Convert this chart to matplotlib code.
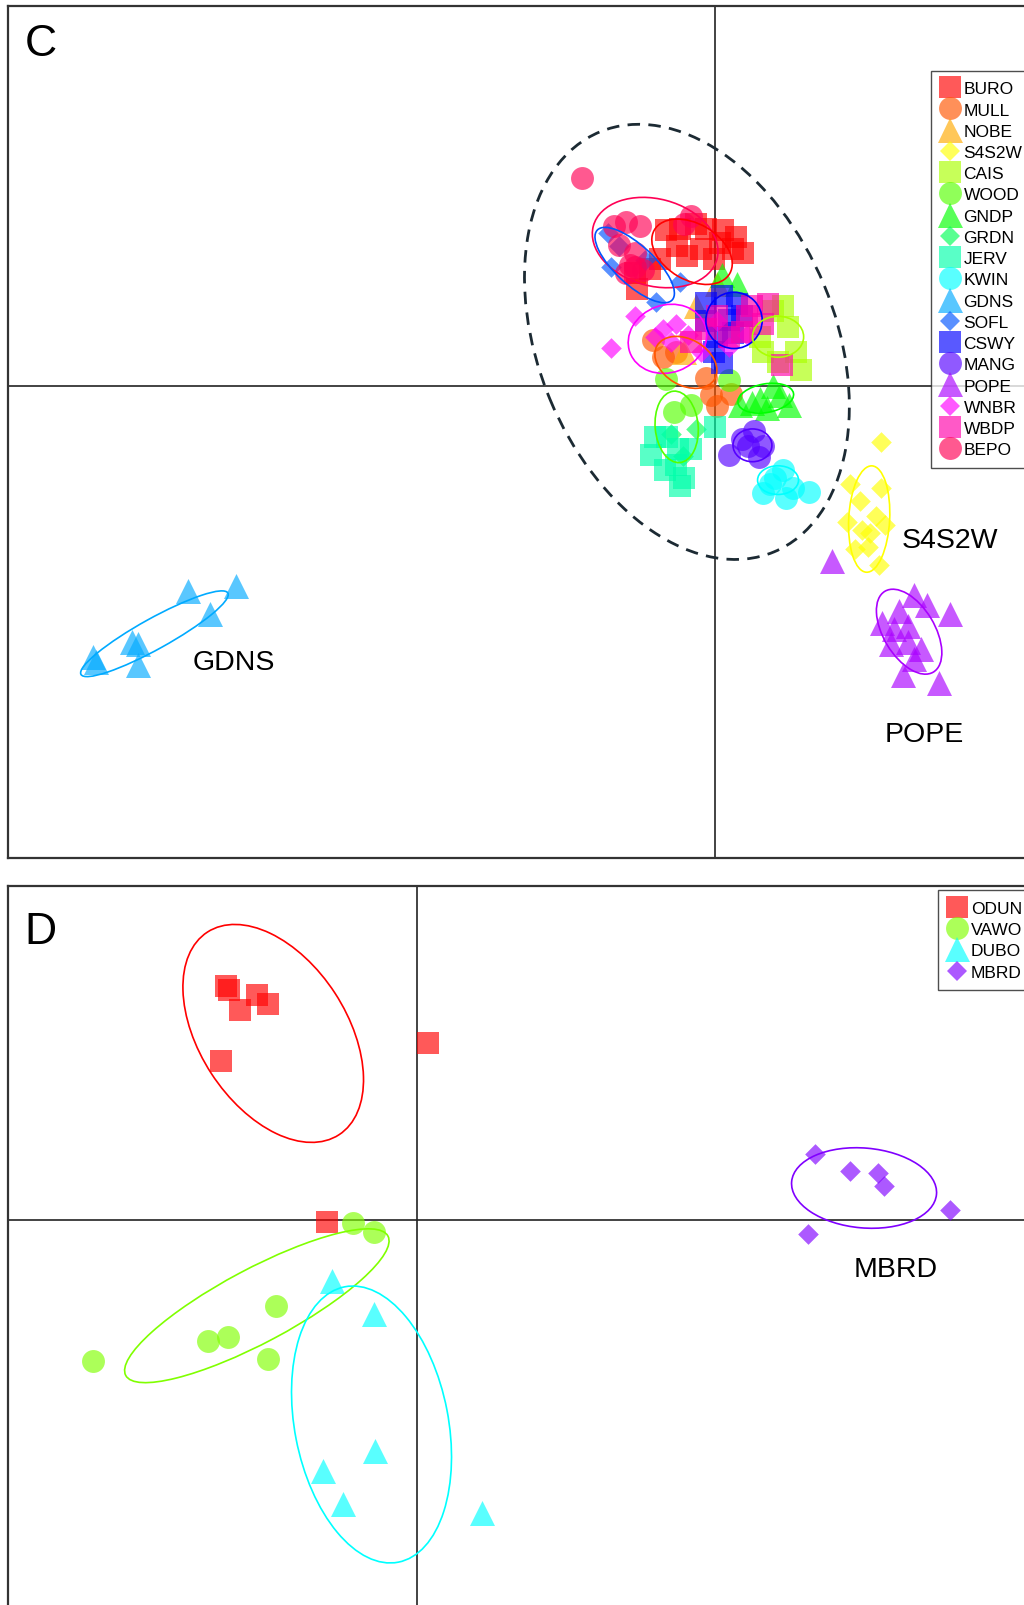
import colorsys
import matplotlib
matplotlib.use('Agg')
import matplotlib.pyplot as plt
from matplotlib.patches import Ellipse
from matplotlib.lines import Line2D

plt.rcParams['font.family'] = ['Liberation Sans', 'DejaVu Sans']

# ---- panel C : 18 sites, discriminant scores ----
c_names = ['BURO', 'MULL', 'NOBE', 'S4S2W', 'CAIS', 'WOOD', 'GNDP', 'GRDN', 'JERV',
           'KWIN', 'GDNS', 'SOFL', 'CSWY', 'MANG', 'POPE', 'WNBR', 'WBDP', 'BEPO']

buro_x = [-0.47, -0.34, -0.18, -0.08, 0.08, 0.21, 0.05, -0.13, 0.18, -0.37, -0.53, -0.63, -0.76, -0.01, -0.27, -0.78, 0.28]
buro_y = [1.52, 1.53, 1.58, 1.53, 1.52, 1.45, 1.40, 1.34, 1.34, 1.37, 1.24, 1.14, 0.95, 1.24, 1.27, 1.10, 1.30]
mull_x = [-0.50, -0.03, 0.16, -0.38, -0.08, -0.60, 0.02]
mull_y = [0.28, -0.09, -0.08, 0.33, 0.08, 0.45, -0.20]
nobe_x = [-0.18, 0.02, -0.30]
nobe_y = [0.78, 1.00, 0.33]
s4s2w_x = [1.63, 1.32, 1.63, 1.42, 1.29, 1.58, 1.66, 1.44, 1.37, 1.50, 1.61, 1.52]
s4s2w_y = [-0.55, -0.96, -1.00, -1.12, -1.33, -1.27, -1.36, -1.41, -1.59, -1.57, -1.75, -1.44]
cais_x = [0.72, 0.80, 0.62, 0.84, 0.44, 0.57, 0.67, 0.47]
cais_y = [0.58, 0.33, 0.23, 0.16, 0.48, 0.73, 0.78, 0.33]
wood_x = [-0.47, -0.23, 0.14, -0.40]
wood_y = [0.07, -0.19, 0.06, -0.25]
gndp_x = [0.25, 0.44, 0.64, 0.73, 0.51, 0.37, 0.57, 0.07, 0.22]
gndp_y = [-0.19, -0.13, -0.09, -0.19, -0.22, -0.17, 0.00, 1.08, 1.00]
grdn_x = [-0.31, -0.43, -0.18]
grdn_y = [-0.68, -0.47, -0.42]
jerv_x = [-0.58, -0.46, -0.36, -0.62, -0.38, -0.30, -0.34, -0.48, 0.00, -0.23]
jerv_y = [-0.50, -0.50, -0.62, -0.67, -0.77, -0.90, -0.98, -0.82, -0.40, -0.62]
kwin_x = [0.67, 0.54, 0.77, 0.47, 0.70, 0.92, 0.59]
kwin_y = [-0.82, -0.96, -1.00, -1.05, -1.09, -1.04, -0.90]
gdns_x = [-5.14, -4.67, -4.93, -5.69, -5.63, -6.07, -6.04, -5.63]
gdns_y = [-2.00, -1.95, -2.23, -2.50, -2.52, -2.65, -2.70, -2.73]
sofl_x = [-1.04, -0.93, -1.01, -0.57, -0.34, -0.68]
sofl_y = [1.49, 1.37, 1.16, 0.82, 1.01, 1.23]
cswy_x = [-0.08, 0.07, 0.22, 0.14, 0.02, 0.18, -0.01, 0.07, -0.08, 0.27]
cswy_y = [0.81, 0.88, 0.80, 0.64, 0.48, 0.52, 0.33, 0.22, 0.63, 0.68]
mang_x = [0.39, 0.47, 0.33, 0.14, 0.43, 0.27]
mang_y = [-0.44, -0.59, -0.59, -0.67, -0.69, -0.52]
pope_x = [1.15, 1.64, 1.80, 1.95, 2.07, 2.30, 1.72, 1.89, 2.02, 1.95, 1.84, 2.19, 1.75, 1.89]
pope_y = [-1.71, -2.32, -2.20, -2.04, -2.14, -2.23, -2.52, -2.50, -2.57, -2.67, -2.82, -2.90, -2.37, -2.34]
wnbr_x = [-1.01, -0.78, -0.50, -0.38, -0.26, -0.43, -0.58, -0.13, 0.02, 0.32, 0.14]
wnbr_y = [0.37, 0.68, 0.56, 0.60, 0.50, 0.43, 0.48, 0.33, 0.63, 0.50, 0.38]
wbdp_x = [0.37, 0.52, 0.47, 0.27, 0.14, 0.02, -0.08, 0.66, 0.32, -0.23]
wbdp_y = [0.78, 0.80, 0.60, 0.53, 0.48, 0.68, 0.56, 0.20, 0.68, 0.43]
bepo_x = [-1.29, -0.98, -0.86, -0.73, -0.93, -0.78, -0.86, -0.70, -0.23, -0.30, -0.78, -0.83]
bepo_y = [2.03, 1.56, 1.60, 1.56, 1.38, 1.16, 1.10, 1.13, 1.66, 1.58, 1.30, 1.18]

c_x = [buro_x, mull_x, nobe_x, s4s2w_x, cais_x, wood_x, gndp_x, grdn_x, jerv_x,
       kwin_x, gdns_x, sofl_x, cswy_x, mang_x, pope_x, wnbr_x, wbdp_x, bepo_x]
c_y = [buro_y, mull_y, nobe_y, s4s2w_y, cais_y, wood_y, gndp_y, grdn_y, jerv_y,
       kwin_y, gdns_y, sofl_y, cswy_y, mang_y, pope_y, wnbr_y, wbdp_y, bepo_y]

# inertia ellipses (group index, centre x, centre y, width, height, angle)
ell_c_grp = [17, 0, 11, 15, 12, 1, 5, 13, 4, 6, 3, 14, 10, 9]
ell_c_cx = [-0.58, -0.22, -0.78, -0.46, 0.19, -0.28, -0.37, 0.37, 0.62, 0.50, 1.51, 1.90, -5.47, 0.62]
ell_c_cy = [1.40, 1.31, 1.18, 0.46, 0.64, 0.23, -0.40, -0.58, 0.48, -0.12, -1.30, -2.40, -2.42, -0.92]
ell_c_w = [1.25, 0.85, 1.00, 0.78, 0.55, 0.65, 0.70, 0.38, 0.50, 0.55, 1.04, 0.92, 1.64, 0.40]
ell_c_h = [0.85, 0.55, 0.38, 0.66, 0.55, 0.45, 0.42, 0.32, 0.40, 0.28, 0.40, 0.50, 0.30, 0.28]
ell_c_a = [-15, -30, -43, 20, 0, -30, 95, 0, 0, 10, 87, -59, 29, 0]

# big dashed ellipse round the main cluster
big_cx, big_cy, big_w, big_h, big_a = -0.27, 0.43, 4.44, 2.90, -67.5

c_labels = ['GDNS', 'S4S2W', 'POPE']
c_label_x = [-4.69, 2.30, 2.05]
c_label_y = [-2.70, -1.50, -3.40]

# ---- panel D : 4 sites ----
d_names = ['ODUN', 'VAWO', 'DUBO', 'MBRD']
odun_x = [-1.86, -1.83, -1.56, -1.72, -1.45, -1.91, 0.11, -0.87]
odun_y = [2.28, 2.24, 2.20, 2.05, 2.11, 1.55, 1.73, -0.02]
vawo_x = [-3.16, -2.04, -1.84, -1.37, -1.45, -0.62, -0.42]
vawo_y = [-1.38, -1.18, -1.15, -0.84, -1.36, -0.03, -0.12]
dubo_x = [-0.83, -0.42, -0.41, -0.91, -0.72, 0.64]
dubo_y = [-0.60, -0.92, -2.26, -2.45, -2.78, -2.86]
mbrd_x = [3.89, 4.23, 4.51, 4.56, 5.21, 3.82]
mbrd_y = [0.64, 0.48, 0.46, 0.33, 0.10, -0.14]
d_x = [odun_x, vawo_x, dubo_x, mbrd_x]
d_y = [odun_y, vawo_y, dubo_y, mbrd_y]

ell_d_cx = [-1.40, -1.56, -0.44, 4.37]
ell_d_cy = [1.82, -0.84, -2.00, 0.31]
ell_d_w = [2.36, 2.90, 2.74, 1.42]
ell_d_h = [1.44, 0.72, 1.50, 0.78]
ell_d_a = [-57, 28, 101, -5]

d_labels = ['MBRD']
d_label_x = [4.68]
d_label_y = [-0.48]

shapes = ['s', 'o', '^', 'D']
sizes = {'s': 15.5, 'o': 16.5, '^': 18.0, 'D': 10.5}
ALPHA = 0.65


def rainbow(n):
    return [colorsys.hsv_to_rgb(i / n, 1, 1) for i in range(n)]


def draw_panel(ax, names, xs, ys, cols, ells, labels, letter, letter_xy):
    handles = []
    for i, name in enumerate(names):
        m = shapes[i % 4]
        ax.scatter(xs[i], ys[i], marker=m, s=sizes[m] ** 2, color=cols[i],
                   alpha=ALPHA, linewidths=0, zorder=3)
        handles.append(Line2D([], [], marker=m, linestyle='none', color=cols[i],
                              alpha=ALPHA, markersize=sizes[m], markeredgewidth=0))
    for g, cx, cy, w, h, a in zip(*ells):
        ax.add_patch(Ellipse((cx, cy), w, h, angle=a, fill=False,
                             edgecolor=cols[g], lw=1.2, zorder=4))
    for t, lx, ly in zip(*labels):
        ax.text(lx, ly, t, fontsize=20.5, ha='center', va='center', zorder=5)
    ax.text(letter_xy[0], letter_xy[1], letter, fontsize=32, ha='center', va='center')
    ax.axhline(0, color='#222222', lw=1.2, zorder=1)
    ax.axvline(0, color='#222222', lw=1.2, zorder=1)
    ax.set_xticks([])
    ax.set_yticks([])
    for sp in ax.spines.values():
        sp.set_linewidth(1.6)
        sp.set_color('#333333')
    return handles


def add_legend(ax, handles, names, anchor):
    leg = ax.legend(handles, names, loc='upper left', bbox_to_anchor=anchor,
                    fontsize=12.5, frameon=True, fancybox=False, edgecolor='#222222',
                    handlelength=1.0, handletextpad=0.3, borderpad=0.6,
                    labelspacing=0.35, borderaxespad=0)
    leg.get_frame().set_linewidth(1.0)
    return leg


fig = plt.figure(figsize=(10.24, 16.06), dpi=100)

# panel C
axc = fig.add_axes([8 / 1024, 747 / 1606, 1.0, 852 / 1606])
axc.set_xlim(-6.90, 3.10)
axc.set_ylim(-4.61, 3.71)
cols_c = rainbow(18)
hc = draw_panel(axc, c_names, c_x, c_y, cols_c,
                (ell_c_grp, ell_c_cx, ell_c_cy, ell_c_w, ell_c_h, ell_c_a),
                (c_labels, c_label_x, c_label_y), 'C', (-6.58, 3.34))
axc.add_patch(Ellipse((big_cx, big_cy), big_w, big_h, angle=big_a, fill=False,
                      edgecolor='#1c2a33', lw=2.0, linestyle=(0, (4.5, 3)), zorder=4))
add_legend(axc, hc, c_names, (0.901, 0.924))

# panel D
axd = fig.add_axes([8 / 1024, -14 / 1606, 1.0, 733 / 1606])
axd.set_xlim(-3.99, 6.01)
axd.set_ylim(-3.90, 3.26)
cols_d = rainbow(4)
hd = draw_panel(axd, d_names, d_x, d_y, cols_d,
                ([0, 1, 2, 3], ell_d_cx, ell_d_cy, ell_d_w, ell_d_h, ell_d_a),
                (d_labels, d_label_x, d_label_y), 'D', (-3.67, 2.82))
add_legend(axd, hd, d_names, (0.908, 0.994))

fig.savefig('out.png', dpi=100)
